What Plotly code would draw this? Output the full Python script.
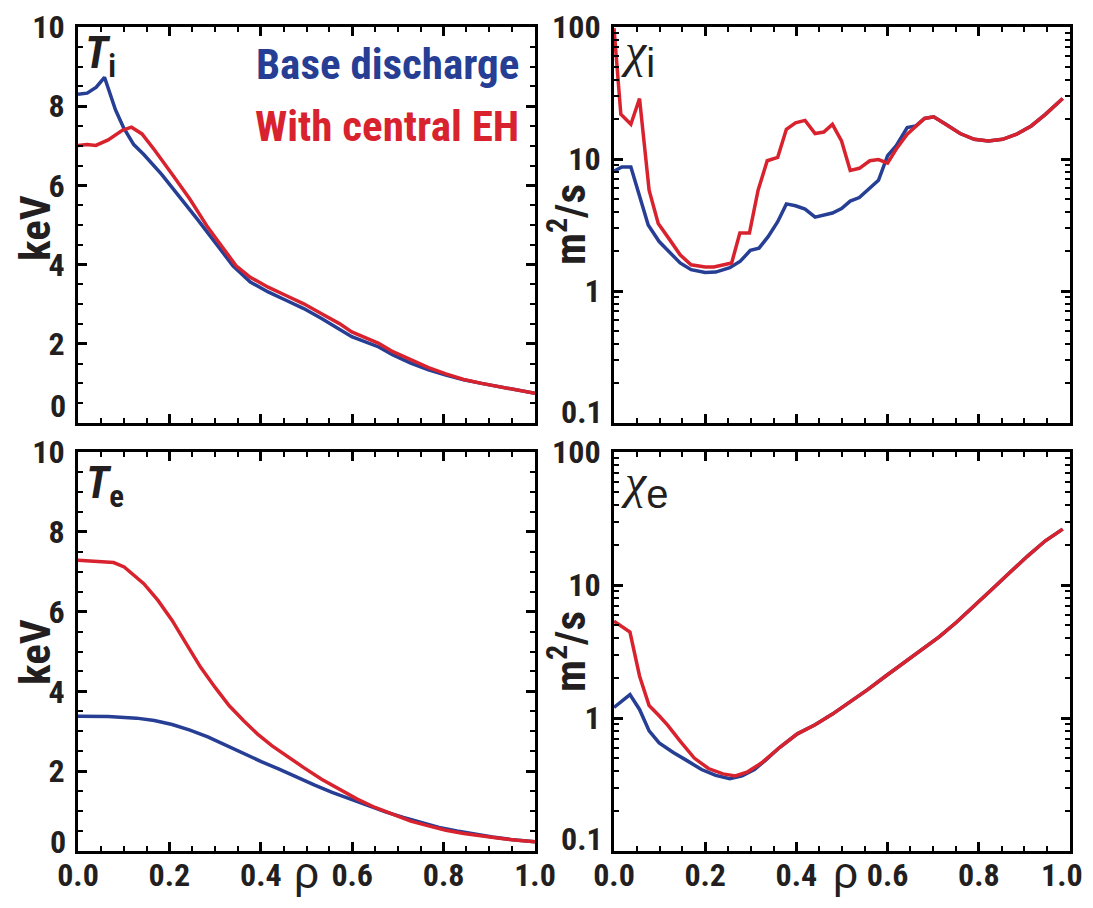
import plotly.graph_objects as go

# ---------------- data ----------------
ti_base_rho = [0.0, 0.02, 0.04, 0.058, 0.082, 0.10, 0.122, 0.144, 0.183, 0.222, 0.261, 0.30, 0.339,
               0.377, 0.416, 0.455, 0.494, 0.533, 0.572, 0.599, 0.658, 0.689, 0.728, 0.767, 0.805,
               0.844, 0.883, 0.922, 0.961, 1.0]
ti_base = [8.30, 8.33, 8.48, 8.73, 7.91, 7.45, 7.03, 6.78, 6.28, 5.73, 5.15, 4.56, 3.97,
           3.56, 3.31, 3.10, 2.89, 2.64, 2.38, 2.18, 1.92, 1.72, 1.51, 1.34, 1.21,
           1.09, 1.00, 0.92, 0.84, 0.75]

ti_eh_rho = [0.0, 0.02, 0.039, 0.066, 0.097, 0.117, 0.14, 0.167, 0.206, 0.245, 0.284, 0.323, 0.346,
             0.377, 0.416, 0.455, 0.494, 0.533, 0.572, 0.599, 0.658, 0.689, 0.728, 0.767, 0.805,
             0.844, 0.883, 0.922, 0.961, 1.0]
ti_eh = [7.01, 7.03, 7.01, 7.15, 7.39, 7.47, 7.30, 6.90, 6.28, 5.65, 4.94, 4.31, 3.97,
         3.68, 3.43, 3.22, 3.01, 2.76, 2.51, 2.30, 2.01, 1.80, 1.59, 1.40, 1.24,
         1.10, 1.00, 0.92, 0.84, 0.75]

te_base_rho = [0.0, 0.066, 0.128, 0.167, 0.206, 0.245, 0.284, 0.323, 0.362, 0.401, 0.44, 0.479,
               0.518, 0.556, 0.595, 0.634, 0.673, 0.712, 0.751, 0.79, 0.829, 0.868, 0.907, 0.946, 1.0]
te_base = [3.38, 3.37, 3.33, 3.27, 3.17, 3.03, 2.86, 2.65, 2.45, 2.24, 2.05, 1.84,
           1.65, 1.47, 1.30, 1.13, 0.98, 0.84, 0.71, 0.59, 0.50, 0.42, 0.35, 0.29, 0.23]

te_eh_rho = [0.0, 0.035, 0.078, 0.101, 0.144, 0.175, 0.206, 0.237, 0.268, 0.30, 0.331, 0.362, 0.393,
             0.424, 0.455, 0.494, 0.533, 0.572, 0.611, 0.65, 0.689, 0.728, 0.767, 0.805, 0.844,
             0.883, 0.922, 0.961, 1.0]
te_eh = [7.29, 7.27, 7.23, 7.12, 6.70, 6.28, 5.78, 5.19, 4.61, 4.10, 3.64, 3.27, 2.93,
         2.64, 2.39, 2.09, 1.80, 1.55, 1.30, 1.09, 0.92, 0.75, 0.63, 0.52, 0.44,
         0.37, 0.32, 0.27, 0.23]

chii_base_rho = [0.0, 0.017, 0.037, 0.056, 0.075, 0.099, 0.122, 0.145, 0.169, 0.2, 0.223, 0.254,
                 0.277, 0.299, 0.318, 0.338, 0.359, 0.378, 0.398, 0.419, 0.441, 0.46, 0.479, 0.499,
                 0.518, 0.538, 0.561, 0.58, 0.60, 0.619, 0.643, 0.662, 0.681, 0.701, 0.728, 0.759,
                 0.79, 0.821, 0.852, 0.883, 0.915, 0.946, 0.984]
chii_base = [8.08, 8.7, 8.7, 5.3, 3.16, 2.37, 1.95, 1.63, 1.45, 1.38, 1.39, 1.50,
             1.68, 2.03, 2.11, 2.58, 3.35, 4.57, 4.42, 4.17, 3.63, 3.76, 3.9, 4.22,
             4.8, 5.1, 5.96, 6.9, 10.6, 12.6, 17.3, 17.8, 20.3, 20.9, 18.3, 15.6,
             14.1, 13.7, 14.1, 15.4, 17.8, 21.8, 28.7]

chii_eh_rho = [0.0, 0.015, 0.037, 0.056, 0.077, 0.097, 0.122, 0.145, 0.169, 0.2, 0.219, 0.239,
               0.258, 0.276, 0.297, 0.316, 0.336, 0.359, 0.378, 0.398, 0.419, 0.441, 0.46, 0.479,
               0.499, 0.518, 0.538, 0.561, 0.58, 0.60, 0.619, 0.643, 0.662, 0.681, 0.701, 0.728,
               0.759, 0.79, 0.821, 0.852, 0.883, 0.915, 0.946, 0.984]
chii_eh = [98.0, 21.8, 18.3, 28.7, 5.8, 3.25, 2.45, 1.88, 1.58, 1.52, 1.52, 1.58,
           1.63, 2.75, 2.75, 5.8, 9.7, 10.3, 16.8, 18.8, 19.6, 15.6, 16.0, 18.3,
           13.7, 8.2, 8.5, 9.7, 9.9, 9.3, 11.9, 15.4, 17.8, 20.3, 20.9, 18.3,
           15.6, 14.1, 13.7, 14.1, 15.4, 17.8, 21.8, 28.7]

chie_base_rho = [0.0, 0.035, 0.056, 0.077, 0.099, 0.13, 0.161, 0.192, 0.223, 0.254, 0.281, 0.308,
                 0.332, 0.363, 0.402, 0.441, 0.479, 0.518, 0.557, 0.596, 0.635, 0.674, 0.713,
                 0.751, 0.79, 0.829, 0.868, 0.907, 0.946, 0.984]
chie_base = [1.20, 1.50, 1.16, 0.80, 0.65, 0.55, 0.476, 0.41, 0.37, 0.35, 0.367, 0.41,
             0.48, 0.60, 0.76, 0.89, 1.07, 1.32, 1.64, 2.07, 2.60, 3.27, 4.07,
             5.25, 6.92, 9.3, 12.4, 16.5, 21.5, 26.3]

chie_eh_rho = [0.0, 0.035, 0.056, 0.077, 0.099, 0.118, 0.145, 0.176, 0.207, 0.239, 0.266, 0.293,
               0.324, 0.363, 0.402, 0.441, 0.479, 0.518, 0.557, 0.596, 0.635, 0.674, 0.713,
               0.751, 0.79, 0.829, 0.868, 0.907, 0.946, 0.984]
chie_eh = [5.34, 4.42, 2.07, 1.24, 1.04, 0.88, 0.67, 0.50, 0.417, 0.38, 0.367, 0.394,
           0.46, 0.60, 0.76, 0.89, 1.07, 1.32, 1.64, 2.07, 2.60, 3.27, 4.07,
           5.25, 6.92, 9.3, 12.4, 16.5, 21.5, 26.3]

series_names = ["Base discharge", "With central EH"]
x_ticks = [0.0, 0.2, 0.4, 0.6, 0.8, 1.0]
x_ticklabels = ["0.0", "0.2", "0.4", "0.6", "0.8", "1.0"]
x_ticklabels_right = ["0.0", "0.2", "0.4", "0.6", "0.8", ""]   # last "1.0" is set at the page edge
t_ticks = [0, 2, 4, 6, 8, 10]
t_ticklabels = ["", "2", "4", "6", "8", "10"]       # "0" drawn a little higher, as in the reference
chi_ticks = [0.1, 1, 10, 100]
chi_ticklabels = ["", "1", "10", "100"]             # "0.1" drawn a little higher

# ---------------- style ----------------
BLUE = "#263E94"
RED = "#D8232E"
INK = "#231F20"
NARROW = "Roboto Condensed, Roboto, sans-serif"
PLAIN = "Liberation Sans, Arial, Helvetica, sans-serif"

# the page places the figure 8 px in from the top-left corner; the figure is made
# small enough that the page does not scroll, and reference pixel positions are
# shifted by that offset
OX, OY = 8, 8
W, H = 1093 - 2 * OX, 908 - 2 * OY


def px(x):
    return (x - OX) / W


def py(y):
    return 1 - (y - OY) / H


fig = go.Figure()

panels = [
    ("x", "y", ti_base_rho, ti_base, ti_eh_rho, ti_eh),
    ("x2", "y2", chii_base_rho, chii_base, chii_eh_rho, chii_eh),
    ("x3", "y3", te_base_rho, te_base, te_eh_rho, te_eh),
    ("x4", "y4", chie_base_rho, chie_base, chie_eh_rho, chie_eh),
]
for xa, ya, xb, yb, xr, yr in panels:
    fig.add_trace(go.Scatter(x=xb, y=yb, xaxis=xa, yaxis=ya, mode="lines",
                             name=series_names[0], line=dict(color=BLUE, width=3.5),
                             showlegend=False, cliponaxis=True))
    fig.add_trace(go.Scatter(x=xr, y=yr, xaxis=xa, yaxis=ya, mode="lines",
                             name=series_names[1], line=dict(color=RED, width=3.5),
                             showlegend=False, cliponaxis=True))

tickfont = dict(family=NARROW, size=32, color=INK, weight="bold")

xl = [px(78), px(535)]
xr_dom = [px(614), px(1070)]
yt = [py(423), py(27)]
yb_dom = [py(851), py(452)]


def xaxis_cfg(domain, anchor, labels, ticktext):
    return dict(domain=domain, anchor=anchor, range=[0, 1], showgrid=False, zeroline=False,
                showline=True, linecolor="black", linewidth=3, mirror="allticks",
                ticks="inside", ticklen=9, tickwidth=3, tickcolor="black",
                tickvals=x_ticks, ticktext=ticktext, showticklabels=labels,
                tickfont=tickfont, ticklabelstandoff=0, automargin=False,
                ticklabeloverflow="allow",
                minor=dict(ticks="inside", ticklen=5, tickwidth=2, tickcolor="black", dtick=0.05,
                           showgrid=False))


def ylin_cfg(domain, anchor):
    return dict(domain=domain, anchor=anchor, range=[0, 10], showgrid=False, zeroline=False,
                showline=True, linecolor="black", linewidth=3, mirror="allticks",
                ticks="inside", ticklen=9, tickwidth=3, tickcolor="black",
                tickvals=t_ticks, ticktext=t_ticklabels, tickfont=tickfont,
                ticklabelstandoff=4, automargin=False, ticklabeloverflow="allow",
                minor=dict(ticks="inside", ticklen=5, tickwidth=2, tickcolor="black", dtick=0.5,
                           showgrid=False))


def ylog_cfg(domain, anchor):
    return dict(domain=domain, anchor=anchor, type="log", range=[-1, 2], showgrid=False,
                zeroline=False, showline=True, linecolor="black", linewidth=3, mirror="allticks",
                ticks="inside", ticklen=9, tickwidth=3, tickcolor="black",
                tickvals=chi_ticks, ticktext=chi_ticklabels, tickfont=tickfont,
                ticklabelstandoff=4, automargin=False, ticklabeloverflow="allow",
                minor=dict(ticks="inside", ticklen=5, tickwidth=2, tickcolor="black", dtick="D1",
                           showgrid=False))


fig.update_layout(
    width=W, height=H, margin=dict(l=0, r=0, t=0, b=0, autoexpand=False),
    paper_bgcolor="white", plot_bgcolor="white", showlegend=False,
    xaxis=xaxis_cfg(xl, "y", False, x_ticklabels),
    yaxis=ylin_cfg(yt, "x"),
    xaxis2=xaxis_cfg(xr_dom, "y2", False, x_ticklabels),
    yaxis2=ylog_cfg(yt, "x2"),
    xaxis3=xaxis_cfg(xl, "y3", True, x_ticklabels),
    yaxis3=ylin_cfg(yb_dom, "x3"),
    xaxis4=xaxis_cfg(xr_dom, "y4", True, x_ticklabels_right),
    yaxis4=ylog_cfg(yb_dom, "x4"),
)

# pull the rho tick labels a little closer to the axis line
try:
    fig.update_xaxes(ticklabelstandoff=-6)
except ValueError:
    pass


def ann(text, x, y, size, color=INK, family=NARROW, weight="bold", angle=0,
        xanchor="center", yanchor="middle"):
    fig.add_annotation(text=text, x=px(x), y=py(y), xref="paper", yref="paper",
                       showarrow=False, textangle=angle, xanchor=xanchor, yanchor=yanchor,
                       font=dict(family=family, size=size, color=color, weight=weight))


# legend texts
ann(series_names[0], 521, 64, 43, color=BLUE, xanchor="right")
ann(series_names[1], 521, 126, 43, color=RED, xanchor="right")

# lowest tick labels (raised slightly, as in the reference)
ann("0", 68, 406, 32, xanchor="right")
ann("0", 68, 842, 32, xanchor="right")
ann("0.1", 605, 412, 32, xanchor="right")
ann("0.1", 605, 839, 32, xanchor="right")
# last rho label of the right panel, kept inside the page
ann(x_ticklabels[-1], 1085, 875, 32, xanchor="right")

# axis titles
ann("keV", 35, 228, 43, angle=-90)
ann("keV", 35, 652, 43, angle=-90)
ann("m<sup>2</sup>/s", 567, 225, 43, angle=-90)
ann("m<sup>2</sup>/s", 567, 652, 43, angle=-90)
ann("ρ", 306, 872, 44, family=PLAIN, weight="normal")
ann("ρ", 846, 872, 44, family=PLAIN, weight="normal")

# panel labels
CHI = '<span style="font-family:Liberation Serif"><i>χ</i></span>'
ann("<i>T</i><sub>i</sub>", 83, 56, 44, xanchor="left")
ann("<i>T</i><sub>e</sub>", 84, 486, 44, xanchor="left")
ann(CHI + '<sub><span style="font-size:40px">i</span></sub>', 619, 54, 48,
    family=PLAIN, weight="normal", xanchor="left")
ann(CHI + '<sub><span style="font-size:40px">e</span></sub>', 619, 485, 48,
    family=PLAIN, weight="normal", xanchor="left")

fig.write_html("out.html")
